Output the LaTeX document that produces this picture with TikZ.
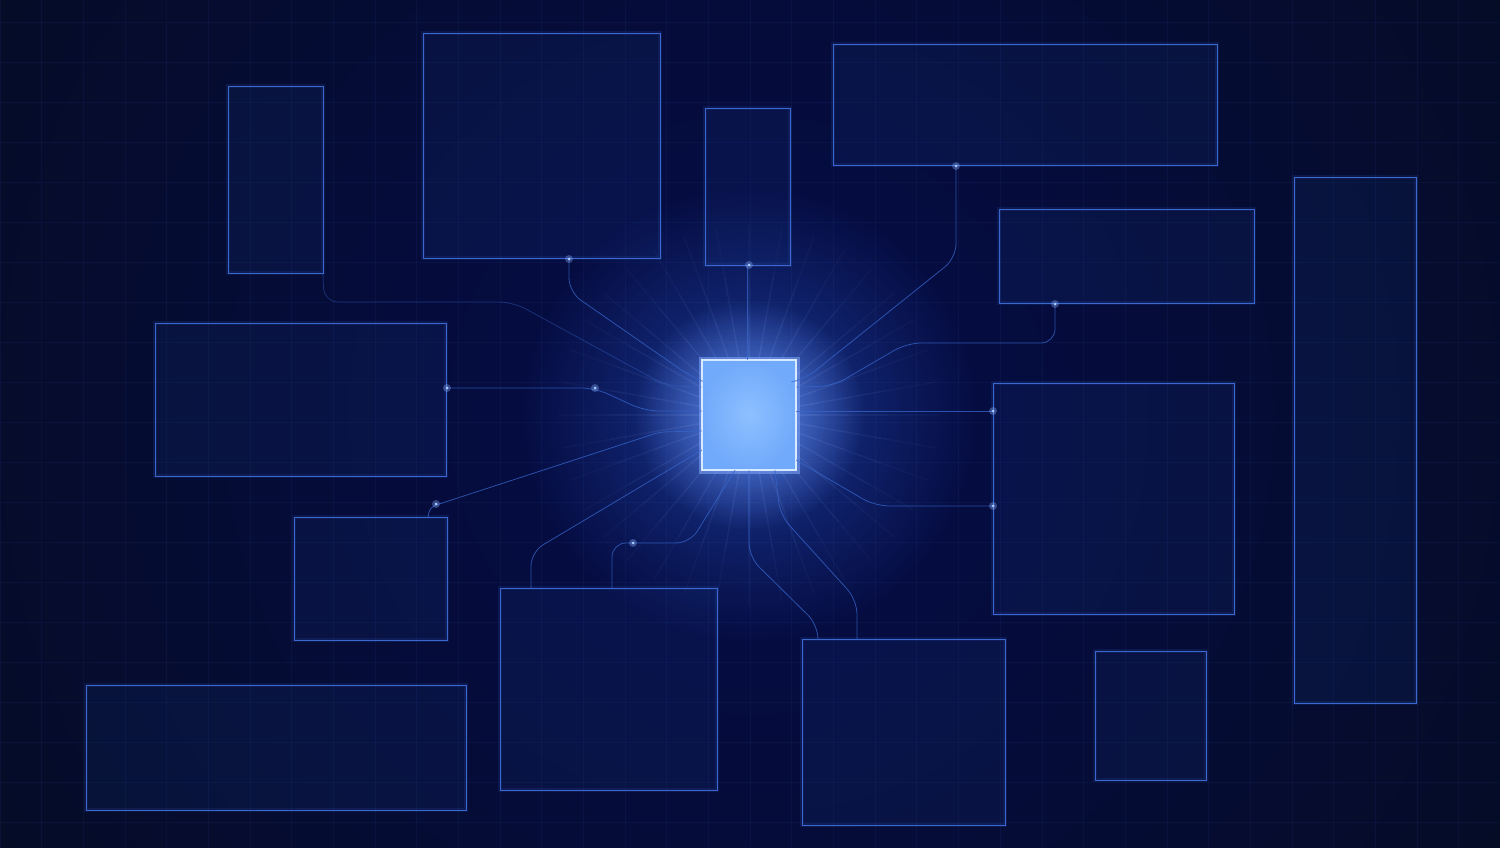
\documentclass[tikz,border=0pt]{standalone}
\usetikzlibrary{fadings}
\definecolor{bgA}{HTML}{050B22}
\definecolor{bgL}{HTML}{132B66}
\definecolor{boxline}{HTML}{3A68CF}
\definecolor{boxfill}{HTML}{1D3F94}
\definecolor{wire}{HTML}{3766CC}
\definecolor{dotc}{HTML}{A8CCFF}
\definecolor{hubin}{HTML}{8CC0FF}
\definecolor{hubout}{HTML}{72AAFB}
\definecolor{hubline}{HTML}{D8EAFF}
\definecolor{glowc}{HTML}{3A78FF}
\definecolor{gridc}{HTML}{1B3170}
\tikzfading[name=glowfade, inner color=transparent!0, outer color=transparent!100]
\begin{document}
\begin{tikzpicture}[x=1pt,y=-1pt,
  box/.style={draw=boxline, line width=0.9pt, fill=boxfill, fill opacity=0.14,
    inner sep=0pt, outer sep=0pt, anchor=north west,
    preaction={draw=boxline, line width=4pt, draw opacity=0.14}},
  hubbox/.style={draw=hubline, line width=1.4pt, inner color=hubin, outer color=hubout,
    inner sep=0pt, outer sep=0pt, anchor=north west,
    preaction={draw=glowc!60!white, line width=7pt, draw opacity=0.5}},
  wire/.style={draw=wire, line width=0.8pt, rounded corners=14pt, draw opacity=0.75},
  dotglow/.style={fill=glowc!60!white, opacity=0.35},
  dotcore/.style={fill=dotc},
  gridline/.style={draw=gridc, line width=0.5pt, opacity=0.2}
]
\useasboundingbox (0,0) rectangle (1500,848);
\clip (0,0) rectangle (1500,848);
\fill[bgA] (0,0) rectangle (1500,848);
\foreach \r in {900,875,...,75} { \fill[bgL, opacity=0.03] (749,415) circle (\r); }
\foreach \gx in {0,...,36} { \draw[gridline] (\gx*41.67,0) -- (\gx*41.67,848); }
\foreach \gy in {0,...,21} { \draw[gridline] (0,22+\gy*40) -- (1500,22+\gy*40); }

% hub glow
\fill[glowc, path fading=glowfade, opacity=0.4] (749,415) circle (230);
\fill[glowc!75!white, path fading=glowfade, opacity=0.85] (749,415) circle (115);
\foreach \a in {0,10,...,350} {
  \foreach \l in {70,100,140,190} {
    \draw[glowc!55!white, line width=1.6pt, opacity=0.035] (749,415) -- ++(\a:\l);
  }
}

% boxes
\node[box, minimum width=95, minimum height=187] (A) at (228,86) {};
\node[box, minimum width=237, minimum height=225] (B) at (423,33) {};
\node[box, minimum width=85, minimum height=157] (C) at (705,108) {};
\node[box, minimum width=384, minimum height=121] (D) at (833,44) {};
\node[box, minimum width=255, minimum height=94] (E) at (999,209) {};
\node[box, minimum width=122, minimum height=526] (F) at (1294,177) {};
\node[box, minimum width=291, minimum height=153] (G) at (155,323) {};
\node[box, minimum width=241, minimum height=231] (H) at (993,383) {};
\node[box, minimum width=153, minimum height=123] (I) at (294,517) {};
\node[box, minimum width=380, minimum height=125] (J) at (86,685) {};
\node[box, minimum width=217, minimum height=202] (K) at (500,588) {};
\node[box, minimum width=203, minimum height=186] (L) at (802,639) {};
\node[box, minimum width=111, minimum height=129] (M) at (1095,651) {};
\node[hubbox, minimum width=94, minimum height=110] (hub) at (702,360) {};

% wires
\draw[wire] (C.south) -- (C.south |- hub.north);
\draw[wire] (569,0 |- B.south) -- (569,292) -- (690,376) -- (hub.west |- 0,381);
\draw[wire, draw opacity=0.4] (A.south east) -- (324,302) -- (513,302) -- (667,386) -- (hub.west |- 0,387);
\draw[wire] (G.east |- 0,388) -- (595,388) -- (645,411) -- (hub.west |- 0,411);
\draw[wire, rounded corners=6pt] (428,0 |- I.north) -- (430,507) -- (660,432) -- (hub.west |- 0,431);
\draw[wire] (531,0 |- K.north) -- (531,552) -- (hub.west |- 0,450);
\draw[wire] (612,0 |- K.north) -- (612,543) -- (690,543) -- (735,0 |- hub.south);
\draw[wire] (hub.south) -- (749,557) -- (818,625) -- (818,0 |- L.north);
\draw[wire] (775,0 |- hub.south) -- (780,515) -- (857,600) -- (857,0 |- L.north);
\draw[wire] (hub.east |- 0,411) -- (H.west |- 0,411);
\draw[wire] (hub.east |- 0,460) -- (875,506) -- (H.west |- 0,506);
\draw[wire] (956,0 |- D.south) -- (956,258) -- (805,379) -- (hub.east |- 0,381);
\draw[wire] (1055,0 |- E.south) -- (1055,343) -- (907,343) -- (833,386) -- (hub.east |- 0,387);

% dots
\foreach \p in {(569,259),(749,265),(956,166),(1055,304),(447,388),(595,388),(436,504),(633,543),(993,506),(993,411)} {
  \fill[dotglow] \p circle (4);
  \fill[dotcore] \p circle (1.5);
}
\end{tikzpicture}
\end{document}
